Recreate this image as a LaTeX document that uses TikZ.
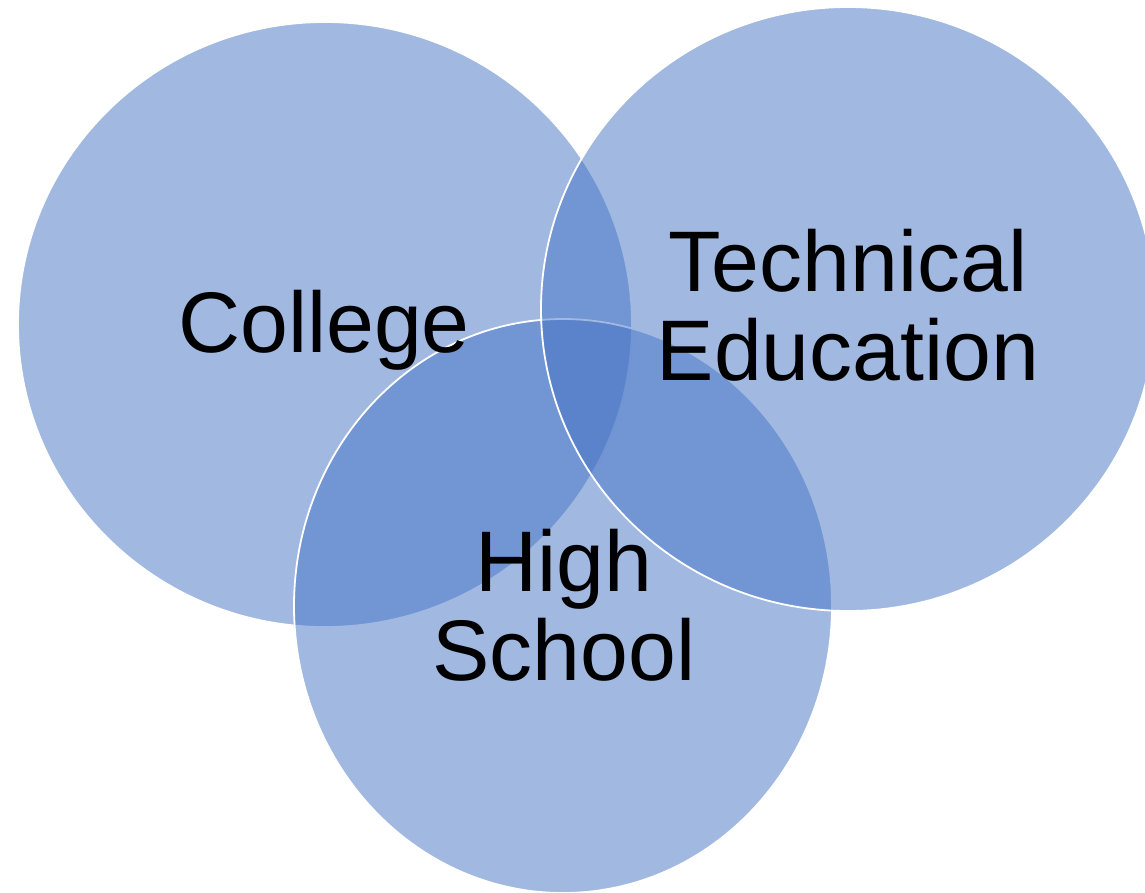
\documentclass[tikz,border=0pt]{standalone}
\usepackage{fontspec}
\setmainfont{Liberation Sans}
\usetikzlibrary{shapes.geometric}
\definecolor{vennblue}{HTML}{4472C4}
\tikzset{
  venn/.style={ellipse, inner sep=0pt, fill=vennblue, fill opacity=0.5, draw=white, draw opacity=1, line width=1.8pt},
  vennlabel/.style={inner sep=0pt, align=center, text=black, font=\fontsize{86}{89}\selectfont}
}
\begin{document}
\begin{tikzpicture}[x=1pt,y=-1pt]
\useasboundingbox (0,0) rectangle (1145,892);
\node[venn, minimum width=614pt, minimum height=605pt] (college) at (325,324.5) {};
\node[venn, minimum width=538pt, minimum height=574pt] (high) at (563,606) {};
\node[venn, minimum width=614pt, minimum height=604pt] (tech) at (848,309) {};
\node[vennlabel, anchor=base] (tcollege) at (324,352) {College};
\node[vennlabel, anchor=base] (ttech) at (848,380) {Technical\\Education};
\node[vennlabel, anchor=base] (thigh) at (564,680) {High\\School};
\end{tikzpicture}
\end{document}
